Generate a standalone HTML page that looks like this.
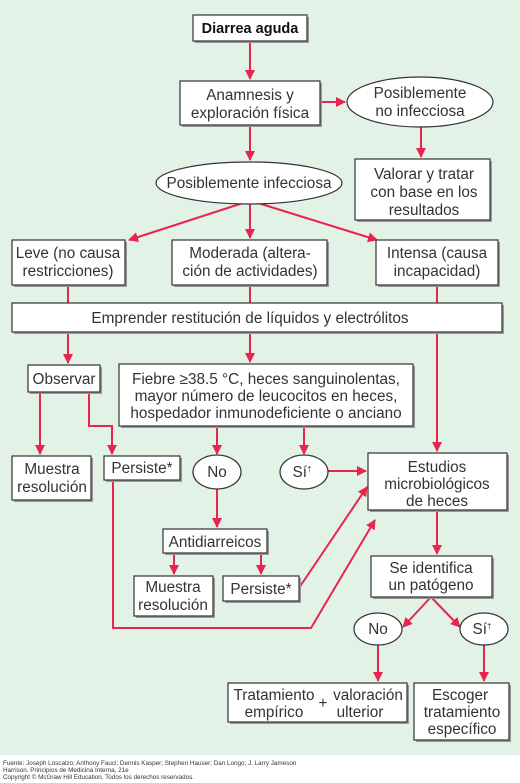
<!DOCTYPE html>
<html><head><meta charset="utf-8"><style>
html,body{margin:0;padding:0;background:#fff;}
svg{display:block;font-family:"Liberation Sans",Arial,sans-serif;}
.b{fill:#fff;stroke:#333;stroke-width:1.2;}
.s{fill:#9a9a9a;}
.t{font-size:15.3px;fill:#333;text-anchor:middle;}
.l{stroke:#e8254f;stroke-width:2;fill:none;}
.f{font-size:6.3px;fill:#333;}
</style></head><body>
<svg width="520" height="783" viewBox="0 0 520 783">
<defs><marker id="a" viewBox="0 0 10 10" refX="9" refY="5" markerWidth="5" markerHeight="5" orient="auto"><path d="M0,0L10,5L0,10z" fill="#e8254f"/></marker></defs>
<rect x="0" y="0" width="520" height="755" fill="#e3f2e6"/>
<g class="l">
<path d="M250,41V79" marker-end="url(#a)"/>
<path d="M320,102H345" marker-end="url(#a)"/>
<path d="M421,127V157" marker-end="url(#a)"/>
<path d="M250,125V160" marker-end="url(#a)"/>
<path d="M243,203L129,240" marker-end="url(#a)"/>
<path d="M250,203V238" marker-end="url(#a)"/>
<path d="M258,203L377,240" marker-end="url(#a)"/>
<path d="M68,285V303M250,285V303M437,285V303"/>
<path d="M68,332V363" marker-end="url(#a)"/>
<path d="M250,332V362" marker-end="url(#a)"/>
<path d="M437,332V451" marker-end="url(#a)"/>
<path d="M40,392V454" marker-end="url(#a)"/>
<path d="M89,392V426H112V454" marker-end="url(#a)"/>
<path d="M217,426V454" marker-end="url(#a)"/>
<path d="M304,426V454" marker-end="url(#a)"/>
<path d="M328,471H366" marker-end="url(#a)"/>
<path d="M217,489V527" marker-end="url(#a)"/>
<path d="M174,553V574" marker-end="url(#a)"/>
<path d="M261,553V574" marker-end="url(#a)"/>
<path d="M299,588L367,487" marker-end="url(#a)"/>
<path d="M113,480V628H311L375,520" marker-end="url(#a)"/>
<path d="M437,510V554" marker-end="url(#a)"/>
<path d="M431,597L403,627" marker-end="url(#a)"/>
<path d="M431,597L460,627" marker-end="url(#a)"/>
<path d="M378,645V681" marker-end="url(#a)"/>
<path d="M484,645V681" marker-end="url(#a)"/>
</g>
<g>
<rect class="s" x="195" y="17" width="114" height="26"/><rect class="b" x="193" y="15" width="114" height="26"/>
<text x="250" y="33" class="t" style="font-weight:bold;font-size:14.5px;fill:#111">Diarrea aguda</text>
<rect class="s" x="182" y="83" width="140" height="44"/><rect class="b" x="180" y="81" width="140" height="44"/>
<text x="250" y="100" class="t">Anamnesis y</text><text x="250" y="118" class="t">exploración física</text>
<ellipse class="b" cx="420" cy="102" rx="73" ry="25"/>
<text x="420" y="98" class="t">Posiblemente</text><text x="420" y="116" class="t">no infecciosa</text>
<rect class="s" x="357" y="161" width="135" height="61"/><rect class="b" x="355" y="159" width="135" height="61"/>
<text x="424" y="179" class="t">Valorar y tratar</text><text x="424" y="197" class="t">con base en los</text><text x="424" y="215" class="t">resultados</text>
<ellipse class="b" cx="249" cy="183" rx="93" ry="21"/>
<text x="249" y="188" class="t">Posiblemente infecciosa</text>
<rect class="s" x="14" y="242" width="113" height="45"/><rect class="b" x="12" y="240" width="113" height="45"/>
<text x="68" y="258" class="t">Leve (no causa</text><text x="68" y="276" class="t">restricciones)</text>
<rect class="s" x="174" y="242" width="155" height="45"/><rect class="b" x="172" y="240" width="155" height="45"/>
<text x="250" y="258" class="t">Moderada (altera-</text><text x="250" y="276" class="t">ción de actividades)</text>
<rect class="s" x="378" y="242" width="122" height="45"/><rect class="b" x="376" y="240" width="122" height="45"/>
<text x="437" y="258" class="t">Intensa (causa</text><text x="437" y="276" class="t">incapacidad)</text>
<rect class="s" x="14" y="305" width="490" height="29"/><rect class="b" x="12" y="303" width="490" height="29"/>
<text x="250" y="323" class="t">Emprender restitución de líquidos y electrólitos</text>
<rect class="s" x="30" y="367" width="72" height="27"/><rect class="b" x="28" y="365" width="72" height="27"/>
<text x="64" y="384" class="t">Observar</text>
<rect class="s" x="121" y="366" width="294" height="62"/><rect class="b" x="119" y="364" width="294" height="62"/>
<text x="266" y="384" class="t">Fiebre ≥38.5 °C, heces sanguinolentas,</text>
<text x="266" y="401" class="t">mayor número de leucocitos en heces,</text>
<text x="266" y="418" class="t">hospedador inmunodeficiente o anciano</text>
<rect class="s" x="14" y="458" width="79" height="44"/><rect class="b" x="12" y="456" width="79" height="44"/>
<text x="52" y="474" class="t">Muestra</text><text x="52" y="492" class="t">resolución</text>
<rect class="s" x="106" y="458" width="76" height="24"/><rect class="b" x="104" y="456" width="76" height="24"/>
<text x="142" y="473" class="t">Persiste*</text>
<ellipse class="b" cx="217" cy="472" rx="24" ry="17"/><text x="217" y="477" class="t">No</text>
<ellipse class="b" cx="304" cy="472" rx="24" ry="17"/><text x="302" y="477" class="t">Sí<tspan dy="-5" style="font-size:8px">†</tspan></text>
<rect class="s" x="370" y="455" width="139" height="57"/><rect class="b" x="368" y="453" width="139" height="57"/>
<text x="437" y="472" class="t">Estudios</text><text x="437" y="489" class="t">microbiológicos</text><text x="437" y="506" class="t">de heces</text>
<rect class="s" x="165" y="531" width="104" height="24"/><rect class="b" x="163" y="529" width="104" height="24"/>
<text x="215" y="547" class="t">Antidiarreicos</text>
<rect class="s" x="136" y="578" width="79" height="40"/><rect class="b" x="134" y="576" width="79" height="40"/>
<text x="173" y="592" class="t">Muestra</text><text x="173" y="610" class="t">resolución</text>
<rect class="s" x="225" y="578" width="76" height="25"/><rect class="b" x="223" y="576" width="76" height="25"/>
<text x="261" y="594" class="t">Persiste*</text>
<rect class="s" x="373" y="558" width="121" height="41"/><rect class="b" x="371" y="556" width="121" height="41"/>
<text x="431" y="573" class="t">Se identifica</text><text x="431" y="590" class="t">un patógeno</text>
<ellipse class="b" cx="378" cy="629" rx="24" ry="16"/><text x="378" y="634" class="t">No</text>
<ellipse class="b" cx="484" cy="629" rx="24" ry="16"/><text x="482" y="634" class="t">Sí<tspan dy="-5" style="font-size:8px">†</tspan></text>
<rect class="s" x="230" y="685" width="179" height="39"/><rect class="b" x="228" y="683" width="179" height="39"/>
<text x="274" y="700" class="t">Tratamiento</text><text x="274" y="717" class="t">empírico</text>
<text x="323" y="708" class="t">+</text>
<text x="368" y="700" class="t">valoración</text><text x="360" y="717" class="t">ulterior</text>
<rect class="s" x="416" y="685" width="95" height="57"/><rect class="b" x="414" y="683" width="95" height="57"/>
<text x="460" y="700" class="t">Escoger</text><text x="462" y="717" class="t">tratamiento</text><text x="462" y="734" class="t">específico</text>
</g>
<text x="3" y="765" class="f">Fuente: Joseph Loscalzo; Anthony Fauci; Dennis Kasper; Stephen Hauser; Dan Longo; J. Larry Jameson</text>
<text x="3" y="772" class="f">Harrison. Principios de Medicina Interna, 21e</text>
<text x="3" y="779" class="f">Copyright © McGraw Hill Education. Todos los derechos reservados.</text>
</svg>
</body></html>
